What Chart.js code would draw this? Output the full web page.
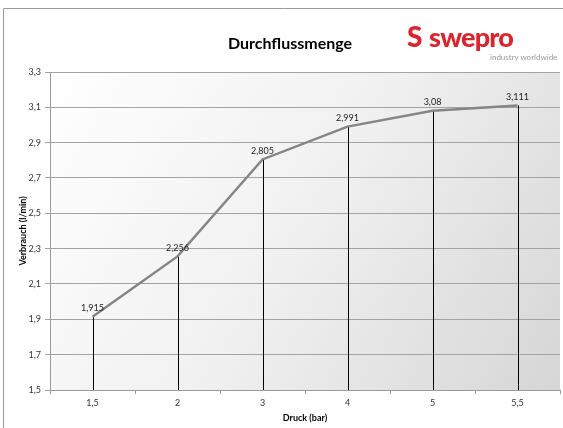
<!DOCTYPE html>
<html>
<head>
<meta charset="utf-8">
<script src="https://cdn.jsdelivr.net/npm/chart.js@4/dist/chart.umd.min.js"></script>
<style>
  html, body { margin: 0; padding: 0; background: #fff; }
  #wrap { position: relative; width: 563px; height: 428px; }
  #logo { position: absolute; left: 406px; top: 20px; font-family: Lato, sans-serif; }
  #logo .mark { position: absolute; left: 1px; top: -1px; font-size: 28px; font-weight: 900; color: #d9262e; }
  #logo .name { position: absolute; left: 23px; top: 0; font-size: 27px; font-weight: 900; color: #d9262e; letter-spacing: -0.8px; }
  #logo .sub { position: absolute; left: 84px; top: 32px; font-size: 8px; color: #999; white-space: nowrap; }
</style>
</head>
<body>
<div id="wrap">
  <canvas id="flowChart" width="563" height="428"></canvas>
  <div id="logo"><span class="mark">S</span><span class="name">swepro</span><span class="sub">industry worldwide</span></div>
</div>
<script>
// === Durchflussmenge chart ===

const pressureLabels = ["1,5", "2", "3", "4", "5", "5,5"];
const flowValues = [1.915, 2.256, 2.805, 2.991, 3.08, 3.111];
const valueLabels = ["1,915", "2,256", "2,805", "2,991", "3,08", "3,111"];

const chartTitle = "Durchflussmenge";
const xTitle = "Druck (bar)";
const yTitle = "Verbrauch (l/min)";

const FONT = "Lato, 'Open Sans', sans-serif";

// plot background gradient + outer frame
const backgroundPlugin = {
  id: "plotBackground",
  beforeDraw(chart) {
    const { ctx, chartArea: a } = chart;
    ctx.save();
    const g = ctx.createLinearGradient(a.left, a.top, a.right, a.bottom);
    g.addColorStop(0, "#ffffff");
    g.addColorStop(0.5, "#f0f0f0");
    g.addColorStop(1, "#d6d6d6");
    ctx.fillStyle = g;
    ctx.fillRect(a.left, a.top, a.right - a.left, a.bottom - a.top);
    // outer border (left + top)
    ctx.strokeStyle = "#9a9a9a";
    ctx.lineWidth = 1;
    ctx.beginPath();
    ctx.moveTo(3.5, 428);
    ctx.lineTo(3.5, 8.5);
    ctx.lineTo(563, 8.5);
    ctx.stroke();
    // title
    ctx.fillStyle = "#000";
    ctx.font = "bold 16px " + FONT;
    ctx.textAlign = "center";
    ctx.textBaseline = "middle";
    ctx.fillText(chartTitle, 290, 44);
    ctx.restore();
  }
};

// drop lines from each point down to the x axis
const dropLinePlugin = {
  id: "dropLines",
  beforeDatasetsDraw(chart) {
    const { ctx } = chart;
    const x = chart.scales.x, y = chart.scales.y;
    ctx.save();
    ctx.strokeStyle = "#000";
    ctx.lineWidth = 1;
    flowValues.forEach((v, i) => {
      const px = Math.round(x.getPixelForValue(i)) + 0.5;
      ctx.beginPath();
      ctx.moveTo(px, y.getPixelForValue(v));
      ctx.lineTo(px, y.getPixelForValue(y.min));
      ctx.stroke();
    });
    ctx.restore();
  }
};

// value labels above points
const valueLabelPlugin = {
  id: "valueLabels",
  afterDatasetsDraw(chart) {
    const { ctx } = chart;
    const meta = chart.getDatasetMeta(0);
    ctx.save();
    ctx.fillStyle = "#222";
    ctx.font = "9px " + FONT;
    ctx.textAlign = "center";
    ctx.textBaseline = "bottom";
    meta.data.forEach((pt, i) => {
      ctx.fillText(valueLabels[i], pt.x, pt.y - 4);
    });
    ctx.restore();
  }
};

const ctx = document.getElementById("flowChart").getContext("2d");
new Chart(ctx, {
  type: "line",
  data: {
    labels: pressureLabels,
    datasets: [{
      data: flowValues,
      borderColor: "#858585",
      borderWidth: 2.5,
      pointRadius: 0,
      tension: 0,
      fill: false
    }]
  },
  options: {
    responsive: false,
    animation: false,
    layout: { padding: { top: 72, right: 3, left: 0, bottom: 0 } },
    plugins: {
      legend: { display: false },
      tooltip: { enabled: false }
    },
    scales: {
      x: {
        offset: true,
        grid: {
          offset: true,
          drawOnChartArea: false,
          color: "#9a9a9a",
          tickLength: 4
        },
        border: { color: "#9a9a9a" },
        ticks: { color: "#333", font: { family: FONT, size: 9 }, padding: 4 },
        title: {
          display: true,
          text: xTitle,
          color: "#000",
          font: { family: FONT, size: 9, weight: "bold" },
          padding: { top: 2, bottom: 5 }
        },
        afterFit(scale) { scale.height = 38; }
      },
      y: {
        min: 1.5,
        max: 3.3,
        ticks: {
          stepSize: 0.2,
          color: "#333",
          font: { family: FONT, size: 9 },
          padding: 4,
          callback: v => v.toFixed(1).replace(".", ",")
        },
        grid: { color: "#a3a3a3", tickLength: 5 },
        border: { color: "#9a9a9a" },
        title: {
          display: true,
          text: yTitle,
          color: "#000",
          font: { family: FONT, size: 9, weight: "bold" },
          padding: { top: 18, bottom: 0 }
        },
        afterFit(scale) { scale.width = 50; }
      }
    }
  },
  plugins: [backgroundPlugin, dropLinePlugin, valueLabelPlugin]
});
</script>
</body>
</html>
